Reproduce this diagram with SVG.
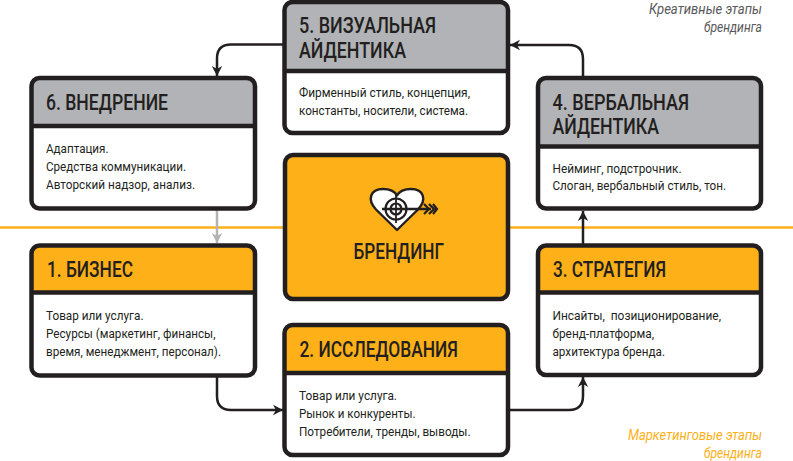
<svg xmlns="http://www.w3.org/2000/svg" width="793" height="461" viewBox="0 0 793 461">
<style>
.box{fill:none;stroke:#231f20;stroke-width:4.5}
.body{fill:#fff}
.div{stroke:#231f20;stroke-width:4.5}
.gray{fill:#b1b3b6}
.or{fill:#fdb017}
text{font-family:"Roboto","Liberation Sans",sans-serif;fill:#231f20}
.t{font-size:21.5px;font-weight:500}
.b{font-size:13px;white-space:pre}
.n{font-size:14px;font-style:italic;text-anchor:end}
.c{fill:none;stroke:#231f20;stroke-width:2.5}
.ln{fill:none;stroke:#231f20;stroke-width:2.2}
</style>
<defs>
<marker id="ah" markerUnits="userSpaceOnUse" markerWidth="14" markerHeight="14" viewBox="-12 -7 14 14" refX="0" refY="0" orient="auto"><path d="M0,0L-10,-5.2L-7,0L-10,5.2Z" fill="#231f20"/></marker>
<marker id="ag" markerUnits="userSpaceOnUse" markerWidth="14" markerHeight="14" viewBox="-12 -7 14 14" refX="0" refY="0" orient="auto"><path d="M0,0L-10,-5.2L-7,0L-10,5.2Z" fill="#b1b3b6"/></marker>
</defs>
<rect width="793" height="461" fill="#fff"/>
<path d="M0,227.5H793" stroke="#fdb017" stroke-width="2.6" fill="none"/>
<g id="connectors">
<path class="c" d="M284,44.5H231Q217,44.5 217,58.5V76" marker-end="url(#ah)"/>
<path class="c" d="M217,210V243" style="stroke:#b1b3b6" marker-end="url(#ag)"/>
<path class="c" d="M217,377V396Q217,410 231,410H283" marker-end="url(#ah)"/>
<path class="c" d="M509,410H569Q583,410 583,396V377" marker-end="url(#ah)"/>
<path class="c" d="M583,244V211" marker-end="url(#ah)"/>
<path class="c" d="M583,77V59Q583,45 569,45H510" marker-end="url(#ah)"/>
</g>
<g id="node-5">
<rect class="body" x="284.5" y="2" width="223.5" height="131" rx="8"/>
<path class="gray" d="M284.5,71V10a8,8 0 0 1 8,-8H500a8,8 0 0 1 8,8V71Z"/>
<path class="div" d="M284.5,71H508"/>
<rect class="box" x="284.5" y="2" width="223.5" height="131" rx="8"/>
<text class="t" x="299" y="33" textLength="137" lengthAdjust="spacingAndGlyphs">5. ВИЗУАЛЬНАЯ</text>
<text class="t" x="299" y="58" textLength="107" lengthAdjust="spacingAndGlyphs">АЙДЕНТИКА</text>
<text class="b" x="299" y="96.5" textLength="171" lengthAdjust="spacingAndGlyphs">Фирменный стиль, концепция,</text>
<text class="b" x="299" y="114.5" textLength="169" lengthAdjust="spacingAndGlyphs">константы, носители, система.</text>
</g>
<g id="node-6">
<rect class="body" x="31.5" y="78" width="223.5" height="130.5" rx="8"/>
<path class="gray" d="M31.5,126V86a8,8 0 0 1 8,-8H247a8,8 0 0 1 8,8V126Z"/>
<path class="div" d="M31.5,126H255"/>
<rect class="box" x="31.5" y="78" width="223.5" height="130.5" rx="8"/>
<text class="t" x="46" y="110" textLength="122" lengthAdjust="spacingAndGlyphs">6. ВНЕДРЕНИЕ</text>
<text class="b" x="46" y="153" textLength="62.5" lengthAdjust="spacingAndGlyphs">Адаптация.</text>
<text class="b" x="46" y="171" textLength="140" lengthAdjust="spacingAndGlyphs">Средства коммуникации.</text>
<text class="b" x="46" y="189" textLength="149" lengthAdjust="spacingAndGlyphs">Авторский надзор, анализ.</text>
</g>
<g id="node-4">
<rect class="body" x="538" y="78" width="223" height="130.5" rx="8"/>
<path class="gray" d="M538,146.5V86a8,8 0 0 1 8,-8H753a8,8 0 0 1 8,8V146.5Z"/>
<path class="div" d="M538,146.5H761"/>
<rect class="box" x="538" y="78" width="223" height="130.5" rx="8"/>
<text class="t" x="552.5" y="110" textLength="136.5" lengthAdjust="spacingAndGlyphs">4. ВЕРБАЛЬНАЯ</text>
<text class="t" x="552.5" y="134" textLength="106.5" lengthAdjust="spacingAndGlyphs">АЙДЕНТИКА</text>
<text class="b" x="552.5" y="172.5" textLength="129" lengthAdjust="spacingAndGlyphs">Нейминг, подстрочник.</text>
<text class="b" x="552.5" y="190" textLength="173.5" lengthAdjust="spacingAndGlyphs">Слоган, вербальный стиль, тон.</text>
</g>
<g id="node-center">
<rect x="285" y="155" width="223" height="144" rx="8" fill="#fdb017" stroke="#231f20" stroke-width="4.5"/>
<path d="M397,230 L376,209.5 C367,200 370,189 383,189 C390,189 395,192 397,195.5 C399,192 404,189 411,189 C424,189 427,200 418,209.5 Z" fill="#fff" stroke="#231f20" stroke-width="2.4" stroke-linejoin="round"/>
<circle class="ln" cx="396" cy="209" r="10.5"/>
<circle class="ln" cx="396" cy="209" r="5.5"/>
<path d="M396,195V223" fill="none" stroke="#231f20" stroke-width="1.8"/>
<path d="M382,209H431" fill="none" stroke="#231f20" stroke-width="2.4"/>
<path d="M424,204L429,209L424,214M429,204L434,209L429,214M433,204L437,209L433,214" fill="none" stroke="#231f20" stroke-width="2.2"/>
<text x="353.5" y="259" font-size="22" font-weight="500" textLength="90.5" lengthAdjust="spacingAndGlyphs">БРЕНДИНГ</text>
</g>
<g id="node-1">
<rect class="body" x="31.5" y="245.5" width="223.5" height="130" rx="8"/>
<path class="or" d="M31.5,292.5V253.5a8,8 0 0 1 8,-8H247a8,8 0 0 1 8,8V292.5Z"/>
<path class="div" d="M31.5,292.5H255"/>
<rect class="box" x="31.5" y="245.5" width="223.5" height="130" rx="8"/>
<text class="t" x="47" y="276.5" textLength="86" lengthAdjust="spacingAndGlyphs">1. БИЗНЕС</text>
<text class="b" x="46" y="320" textLength="97.5" lengthAdjust="spacingAndGlyphs">Товар или услуга.</text>
<text class="b" x="46" y="338" textLength="169.5" lengthAdjust="spacingAndGlyphs">Ресурсы (маркетинг, финансы,</text>
<text class="b" x="46" y="356" textLength="175" lengthAdjust="spacingAndGlyphs">время, менеджмент, персонал).</text>
</g>
<g id="node-2">
<rect class="body" x="284.5" y="325" width="223.5" height="130" rx="8"/>
<path class="or" d="M284.5,373V333a8,8 0 0 1 8,-8H500a8,8 0 0 1 8,8V373Z"/>
<path class="div" d="M284.5,373H508"/>
<rect class="box" x="284.5" y="325" width="223.5" height="130" rx="8"/>
<text class="t" x="299.5" y="357" textLength="158.5" lengthAdjust="spacingAndGlyphs">2. ИССЛЕДОВАНИЯ</text>
<text class="b" x="299" y="399.7" textLength="98" lengthAdjust="spacingAndGlyphs">Товар или услуга.</text>
<text class="b" x="299" y="417.7" textLength="116.5" lengthAdjust="spacingAndGlyphs">Рынок и конкуренты.</text>
<text class="b" x="299" y="435.7" textLength="171.5" lengthAdjust="spacingAndGlyphs">Потребители, тренды, выводы.</text>
</g>
<g id="node-3">
<rect class="body" x="538" y="245.5" width="223" height="129.5" rx="8"/>
<path class="or" d="M538,292.5V253.5a8,8 0 0 1 8,-8H753a8,8 0 0 1 8,8V292.5Z"/>
<path class="div" d="M538,292.5H761"/>
<rect class="box" x="538" y="245.5" width="223" height="129.5" rx="8"/>
<text class="t" x="553" y="276.5" textLength="113" lengthAdjust="spacingAndGlyphs">3. СТРАТЕГИЯ</text>
<text class="b" x="552.5" y="320" textLength="168.5" lengthAdjust="spacingAndGlyphs">Инсайты,  позиционирование,</text>
<text class="b" x="552.5" y="338" textLength="101.5" lengthAdjust="spacingAndGlyphs">бренд-платформа,</text>
<text class="b" x="552.5" y="356" textLength="112.5" lengthAdjust="spacingAndGlyphs">архитектура бренда.</text>
</g>
<g id="notes">
<text class="n" x="762" y="13.5" textLength="113" lengthAdjust="spacingAndGlyphs" style="fill:#58595b">Креативные этапы</text>
<text class="n" x="762" y="31.5" textLength="58" lengthAdjust="spacingAndGlyphs" style="fill:#58595b">брендинга</text>
<text class="n" x="762" y="439.5" textLength="134" lengthAdjust="spacingAndGlyphs" style="fill:#fdb017">Маркетинговые этапы</text>
<text class="n" x="762" y="458" textLength="58" lengthAdjust="spacingAndGlyphs" style="fill:#fdb017">брендинга</text>
</g>
</svg>
